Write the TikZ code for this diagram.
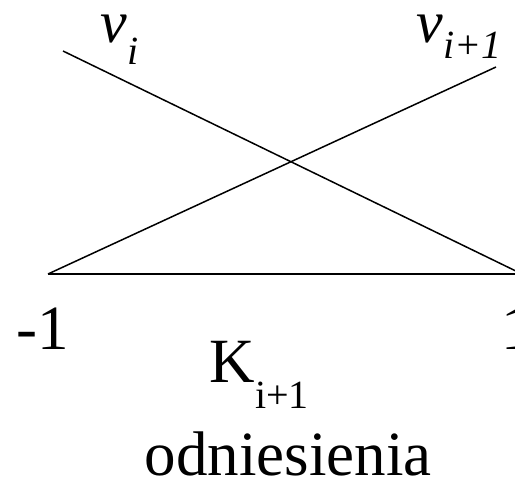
\documentclass[tikz,border=0pt]{standalone}
\usepackage{fontspec}
\setmainfont{Liberation Serif}[ItalicFont={Liberation Serif Italic}]
\newcommand{\lowidx}[2]{\raisebox{-#1pt}{\fontsize{40}{40}\selectfont #2}}
\tikzset{lab/.style={inner sep=0pt, font=\fontsize{63}{63}\selectfont},
         toplab/.style={lab, text height=30pt, font=\fontsize{60}{60}\selectfont\itshape}}

\begin{document}
\begin{tikzpicture}[x=1pt, y=-1pt, line width=1.5pt]
        \useasboundingbox (0,0) rectangle (515,488);
        % Punkty
        \coordinate (A) at (48,274);
        \coordinate (B) at (522,274);
        \coordinate (P) at (63,51);
        \coordinate (Q) at (496,67);
        
        \draw (P) -- (B);
        \draw (A) -- (Q);
        \draw[line width=2pt] (A) -- (B);
        
        % Etykiety
        \node[toplab, anchor=base west] (vi) at (100,42) {v\lowidx{22}{i}};
        \node[toplab, anchor=base west] (vj) at (416,42) {v\lowidx{16}{i+1}};
        \node[lab, anchor=base west] (m1) at (16,349) {-1};
        \node[lab, anchor=base west] (p1) at (501,349) {1};
        \node[lab, anchor=base west] (K) at (209,382) {K\lowidx{26}{i+1}};
        \node[lab, anchor=base] (odn) at (288,475) {odniesienia};
    \end{tikzpicture}
\end{document}
